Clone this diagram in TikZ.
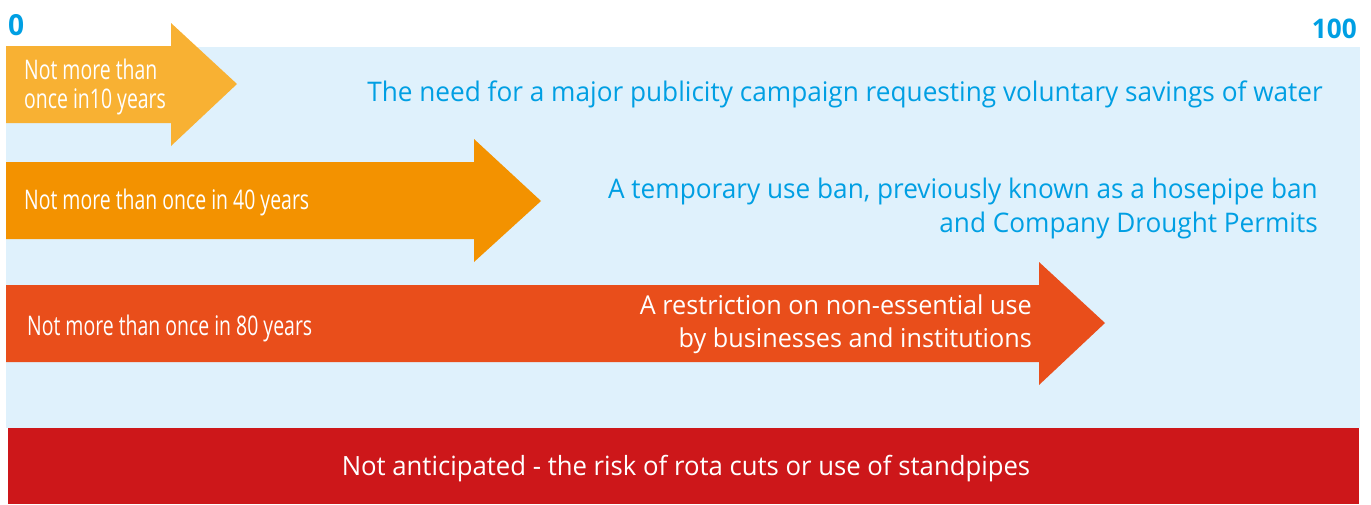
\documentclass[tikz,border=0pt]{standalone}
\usepackage{fontspec}
\setmainfont[FakeStretch=0.97]{Open Sans}
\newfontfamily\condfont[FakeStretch=0.72]{Open Sans}
\definecolor{skyback}{HTML}{DFF1FC}
\definecolor{inkblue}{HTML}{009FE3}
\definecolor{amber}{HTML}{F8B133}
\definecolor{tangerine}{HTML}{F39200}
\definecolor{vermilion}{HTML}{E94E1B}
\definecolor{cutred}{HTML}{CD171A}

\begin{document}
\begin{tikzpicture}[x=1pt, y=-1pt,
  freq/.style={white, inner sep=0, font=\condfont\fontsize{27}{29}\selectfont, align=left},
  note/.style={inner sep=0, font=\fontsize{27}{34}\selectfont, align=right},
  tick/.style={inkblue, inner sep=0, font=\bfseries\fontsize{27}{27}\selectfont}]

\useasboundingbox (0,0) rectangle (1371,504);

\fill[skyback] (6,47) rectangle (1360,428);
\fill[cutred] (8,428) rectangle (1359,504);

\node[tick, anchor=base west, font=\bfseries\fontsize{29}{29}\selectfont] (zero) at (8,35) {0};
\node[tick, anchor=base east] (hundred) at (1357,38) {100};

% the three arrows
\fill[amber] (6,46) -- (171,46) -- (171,23) -- (237,84) -- (171,146) -- (171,123) -- (6,123) -- cycle;
\fill[tangerine] (6,162) -- (474,162) -- (474,139) -- (541,201) -- (474,262) -- (474,239) -- (6,239) -- cycle;
\fill[vermilion] (6,285) -- (1039,285) -- (1039,262) -- (1105,323) -- (1039,385) -- (1039,362) -- (6,362) -- cycle;

\node[freq, anchor=west] (ten) at (24,87) {Not more than\\once in10 years};
\node[freq, anchor=base west] (forty) at (24,209) {Not more than once in 40 years};
\node[freq, anchor=base west] (eighty) at (27,335) {Not more than once in 80 years};

\node[note, inkblue, anchor=base east] (campaign) at (1323,101) {The need for a major publicity campaign requesting voluntary savings of water};
\node[note, inkblue, anchor=east] (ban) at (1318,208) {A temporary use ban, previously known as a hosepipe ban\\and Company Drought Permits};
\node[note, white, anchor=east, font=\fontsize{26}{33}\selectfont] (restrict) at (1032,324) {A restriction on non-essential use\\by businesses and institutions};

\node[white, inner sep=0, font=\fontsize{26.5}{26.5}\selectfont, anchor=base] (rota) at (686,475) {Not anticipated - the risk of rota cuts or use of standpipes};

\end{tikzpicture}
\end{document}
